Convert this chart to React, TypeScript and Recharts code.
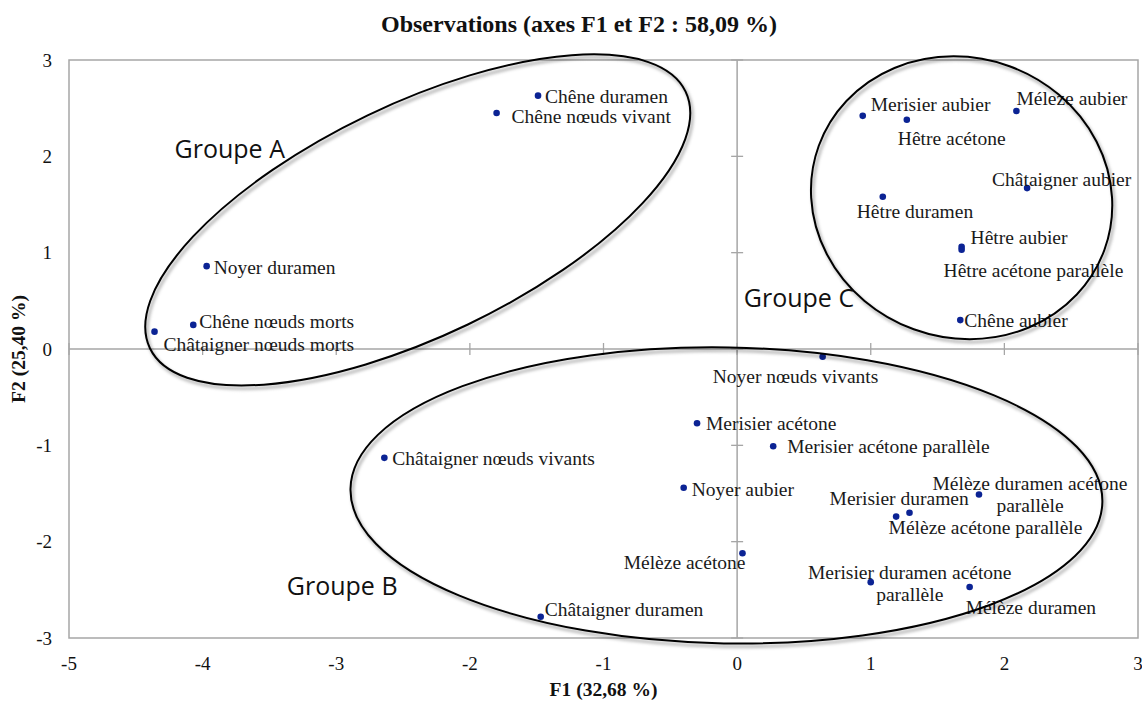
import { ScatterChart, Scatter, XAxis, YAxis, ReferenceArea, ReferenceLine, ReferenceDot } from 'recharts';

const observations = [
  'Chêne duramen', 'Chêne nœuds vivant', 'Noyer duramen', 'Chêne nœuds morts', 'Châtaigner nœuds morts',
  'Merisier aubier', 'Hêtre acétone', 'Méleze aubier', 'Châtaigner aubier', 'Hêtre duramen',
  'Hêtre aubier', 'Hêtre acétone parallèle', 'Chêne aubier', 'Noyer nœuds vivants', 'Merisier acétone',
  'Merisier acétone parallèle', 'Châtaigner nœuds vivants', 'Noyer aubier', 'Mélèze acétone', 'Châtaigner duramen',
  'Mélèze duramen acétone parallèle', 'Merisier duramen', 'Mélèze acétone parallèle',
  'Merisier duramen acétone parallèle', 'Mélèze duramen',
];
const f1 = [
  -1.49, -1.80, -3.97, -4.07, -4.36,
  0.94, 1.27, 2.09, 2.17, 1.09,
  1.68, 1.68, 1.67, 0.64, -0.30,
  0.27, -2.64, -0.40, 0.04, -1.47,
  1.81, 1.19, 1.29,
  1.00, 1.74,
];
const f2 = [
  2.63, 2.45, 0.86, 0.25, 0.18,
  2.42, 2.38, 2.47, 1.67, 1.58,
  1.06, 1.03, 0.30, -0.08, -0.77,
  -1.01, -1.13, -1.44, -2.12, -2.78,
  -1.51, -1.74, -1.70,
  -2.42, -2.47,
];

const xTicks = [-5, -4, -3, -2, -1, 0, 1, 2, 3];
const yTicks = [-3, -2, -1, 0, 1, 2, 3];

// groups: name, ellipse centre, label anchor (data units)
const groupNames = ['Groupe A', 'Groupe B', 'Groupe C'];
const groupCenterX = [-2.39, -0.08, 1.68];
const groupCenterY = [1.34, -1.52, 1.57];
const groupLabelX = [-4.21, -3.37, 0.05];
const groupLabelY = [1.98, -2.55, 0.44];

// ellipse geometry in px: rx, ry, rotation
const ellipseStyle = [
  { rx: 297, ry: 116, rot: -25.6 },
  { rx: 376, ry: 148, rot: 1 },
  { rx: 152, ry: 140, rot: 20 },
];

// label placement: anchor, dx, dy (px, first line centre), words on first line if wrapped
const labelPos: Record<string, [string, number, number, number?]> = {
  'Chêne duramen': ['start', 7, 1],
  'Chêne nœuds vivant': ['start', 15, 3],
  'Noyer duramen': ['start', 7, 1],
  'Chêne nœuds morts': ['start', 6, -4],
  'Châtaigner nœuds morts': ['start', 9, 13],
  'Merisier aubier': ['start', 8, -12],
  'Hêtre acétone': ['start', -9, 18],
  'Méleze aubier': ['start', 0, -13],
  'Châtaigner aubier': ['start', -35, -9],
  'Hêtre duramen': ['start', -26, 14],
  'Hêtre aubier': ['start', 9, -10],
  'Hêtre acétone parallèle': ['start', -18, 20],
  'Chêne aubier': ['start', 4, 0],
  'Noyer nœuds vivants': ['start', -110, 19],
  'Merisier acétone': ['start', 9, 0],
  'Merisier acétone parallèle': ['start', 14, 0],
  'Châtaigner nœuds vivants': ['start', 8, 0],
  'Noyer aubier': ['start', 8, 1],
  'Mélèze acétone': ['end', 3, 9],
  'Châtaigner duramen': ['start', 4, -8],
  'Mélèze duramen acétone parallèle': ['middle', 51, -11, 3],
  'Merisier duramen': ['middle', 3, -18],
  'Mélèze acétone parallèle': ['middle', 76, 14],
  'Merisier duramen acétone parallèle': ['middle', 39, -10, 3],
  'Mélèze duramen': ['start', -4, 20],
};

const data = observations.map((name, i) => ({ name, x: f1[i], y: f2[i] }));

const SERIF = '"Liberation Serif", "Times New Roman", serif';
const SANS = '"Open Sans", "Noto Sans", sans-serif';
const GRID = '#a6a6a6';

const PointShape = (props: any) => {
  const { cx, cy, payload } = props;
  const [anchor, dx, dy, split] = labelPos[payload.name] || ['start', 7, 0];
  const words = payload.name.split(' ');
  const lines = split ? [words.slice(0, split).join(' '), words.slice(split).join(' ')] : [payload.name];
  return (
    <g>
      <circle cx={cx} cy={cy} r={3.3} fill="#0b2394" />
      {lines.map((l: string, k: number) => (
        <text
          key={k}
          x={cx + dx}
          y={cy + dy + k * 22}
          dy="0.35em"
          textAnchor={anchor}
          fontFamily={SERIF}
          fontSize={19.5}
          fill="#1a1a1a"
        >
          {l}
        </text>
      ))}
    </g>
  );
};

const EllipseShape = (props: any) => {
  const { cx, cy, idx } = props;
  const { rx, ry, rot } = ellipseStyle[idx];
  return (
    <g>
      <defs>
        <filter id={`blur${idx}`} x="-20%" y="-20%" width="140%" height="140%">
          <feGaussianBlur stdDeviation="1.8" />
        </filter>
      </defs>
      <g transform={`translate(${cx + 2},${cy + 3}) rotate(${rot})`}>
        <ellipse rx={rx} ry={ry} fill="none" stroke="#000" strokeOpacity={0.28} strokeWidth={3} filter={`url(#blur${idx})`} />
      </g>
      <g transform={`translate(${cx},${cy}) rotate(${rot})`}>
        <ellipse rx={rx} ry={ry} fill="none" stroke="#000" strokeWidth={2} />
      </g>
    </g>
  );
};

const GroupLabel = (props: any) => (
  <text x={props.cx} y={props.cy} fontFamily={SANS} fontSize={25} fill="#111">
    {props.label}
  </text>
);

const VTick = (props: any) => (
  <line x1={props.cx} x2={props.cx} y1={props.cy - 6} y2={props.cy + 6} stroke={GRID} strokeWidth={1.3} />
);
const HTick = (props: any) => (
  <line x1={props.cx - 6} x2={props.cx + 6} y1={props.cy} y2={props.cy} stroke={GRID} strokeWidth={1.3} />
);

export default function App() {
  return (
    <div style={{ position: 'absolute', left: 0, top: 0, width: 1142, height: 702, background: '#fff' }}>
      <div
        style={{
          position: 'absolute',
          top: 12,
          left: 8,
          width: 1142,
          textAlign: 'center',
          fontFamily: SERIF,
          fontWeight: 'bold',
          fontSize: 24,
          lineHeight: '24px',
          color: '#111',
        }}
      >
        Observations (axes F1 et F2 : 58,09 %)
      </div>
      <ScatterChart width={1142} height={702} margin={{ top: 60, right: 4, bottom: 4, left: 9 }}>
        <XAxis
          type="number"
          dataKey="x"
          domain={[-5, 3]}
          ticks={xTicks}
          interval={0}
          allowDataOverflow
          axisLine={false}
          tickLine={false}
          tickMargin={13}
          height={60}
          tick={{ fill: '#111', fontSize: 19, fontFamily: SERIF }}
          label={{ value: 'F1 (32,68 %)', position: 'insideBottom', offset: 2, fill: '#111', fontSize: 19.5, fontWeight: 'bold', fontFamily: SERIF }}
        />
        <YAxis
          type="number"
          dataKey="y"
          domain={[-3, 3]}
          ticks={yTicks}
          interval={0}
          allowDataOverflow
          axisLine={false}
          tickLine={false}
          tickMargin={11}
          width={60}
          tick={{ fill: '#111', fontSize: 19, fontFamily: SERIF }}
          label={{ value: 'F2 (25,40 %)', angle: -90, position: 'insideLeft', offset: 9, fill: '#111', fontSize: 19.5, fontWeight: 'bold', fontFamily: SERIF, style: { textAnchor: 'middle' } }}
        />
        <ReferenceArea x1={-5} x2={3} y1={-3} y2={3} fill="none" stroke={GRID} strokeWidth={1.5} />
        <ReferenceLine x={0} stroke={GRID} strokeWidth={1.5} />
        <ReferenceLine y={0} stroke={GRID} strokeWidth={1.5} />
        {xTicks.map((t) => (
          <ReferenceDot key={`xt${t}`} x={t} y={0} r={0} shape={VTick} />
        ))}
        {yTicks.map((t) => (
          <ReferenceDot key={`yt${t}`} x={0} y={t} r={0} shape={HTick} />
        ))}
        <Scatter data={data} shape={PointShape} isAnimationActive={false} />
        {groupNames.map((g, i) => (
          <ReferenceDot
            key={`el${g}`}
            x={groupCenterX[i]}
            y={groupCenterY[i]}
            r={0}
            shape={(p: any) => <EllipseShape {...p} idx={i} />}
          />
        ))}
        {groupNames.map((g, i) => (
          <ReferenceDot
            key={`gl${g}`}
            x={groupLabelX[i]}
            y={groupLabelY[i]}
            r={0}
            shape={(p: any) => <GroupLabel {...p} label={g} />}
          />
        ))}
      </ScatterChart>
    </div>
  );
}
